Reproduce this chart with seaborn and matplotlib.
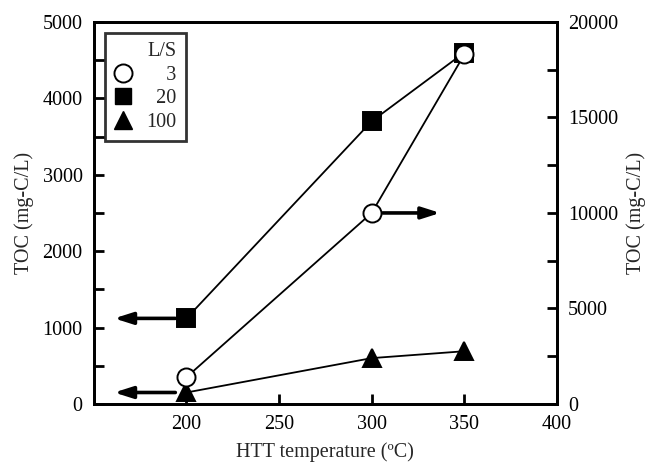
import numpy as np
import pandas as pd
import matplotlib
matplotlib.use("Agg")
import matplotlib.pyplot as plt
import seaborn as sns
from matplotlib.lines import Line2D
from matplotlib.ticker import MultipleLocator

sns.set_style("ticks")
plt.rcParams["font.family"] = ["Liberation Serif", "DejaVu Serif"]
fs = 14.5

# data
temps = [200, 300, 350]
toc_ls3 = [1400, 10000, 18300]   # right axis
toc_ls20 = [1120, 3700, 4600]    # left axis
toc_ls100 = [150, 600, 690]      # left axis
ls_labels = ["\u2007\u20073", "\u200720", "100"]

fig, ax = plt.subplots(figsize=(6.56, 4.67), dpi=100)
ax2 = ax.twinx()

ms = 13
kw = dict(color="black", linewidth=1.3, markersize=ms, markeredgewidth=1.4, markeredgecolor="black")
sns.lineplot(x=temps, y=toc_ls20, ax=ax, marker="s", markerfacecolor="black", **kw)
sns.lineplot(x=temps, y=toc_ls100, ax=ax, marker="^", markerfacecolor="black", **kw)
sns.lineplot(x=temps, y=toc_ls3, ax=ax2, marker="o", markerfacecolor="white", zorder=5, **kw)

# arrows showing which axis each series belongs to
arr = dict(arrowstyle="-|>,head_length=1.1,head_width=0.35", color="black", lw=2.6, shrinkA=8, shrinkB=0)
ax.annotate("", xy=(161, toc_ls20[0]), xytext=(200, toc_ls20[0]), arrowprops=arr)
ax.annotate("", xy=(161, toc_ls100[0]), xytext=(200, toc_ls100[0]), arrowprops=arr)
ax2.annotate("", xy=(337, toc_ls3[1]), xytext=(300, toc_ls3[1]), arrowprops=arr)

ax.set_xlim(150, 400)
ax.set_ylim(0, 5000)
ax2.set_ylim(0, 20000)
ax.set_xticks([200, 250, 300, 350, 400])
ax.yaxis.set_major_locator(MultipleLocator(1000))
ax.yaxis.set_minor_locator(MultipleLocator(500))
ax2.yaxis.set_major_locator(MultipleLocator(5000))
ax2.yaxis.set_minor_locator(MultipleLocator(2500))

for a in (ax, ax2):
    a.tick_params(which="both", direction="in", width=2, colors="black", labelsize=fs)
    a.tick_params(which="major", length=7, pad=8)
    a.tick_params(which="minor", length=7)
    for s in a.spines.values():
        s.set_linewidth(2)
        s.set_color("black")
ax.tick_params(axis="y", which="both", right=False)
ax2.tick_params(axis="y", which="both", left=False)

ax.set_xlabel("HTT temperature (ºC)", fontsize=fs, labelpad=6)
ax.set_ylabel("TOC (mg-C/L)", fontsize=fs, labelpad=6)
ax2.set_ylabel("TOC (mg-C/L)", fontsize=fs, labelpad=6)

handles = [
    Line2D([], [], marker="o", color="none", markerfacecolor="white", markeredgecolor="black", markersize=ms, markeredgewidth=1.4),
    Line2D([], [], marker="s", color="none", markerfacecolor="black", markeredgecolor="black", markersize=ms - 1),
    Line2D([], [], marker="^", color="none", markerfacecolor="black", markeredgecolor="black", markersize=ms),
]
leg = ax2.legend(handles, ls_labels, title="L/S", loc="upper left",
                 bbox_to_anchor=(0.024, 0.971), borderaxespad=0, frameon=True, fancybox=False,
                 edgecolor="black", handlelength=0.9, handletextpad=0.7,
                 labelspacing=0.22, borderpad=0.45, fontsize=fs, title_fontsize=fs,
                 alignment="right")
leg.get_frame().set_linewidth(2)

fig.subplots_adjust(left=0.143, right=0.849, top=0.953, bottom=0.135)
fig.savefig("out.png", dpi=100)
